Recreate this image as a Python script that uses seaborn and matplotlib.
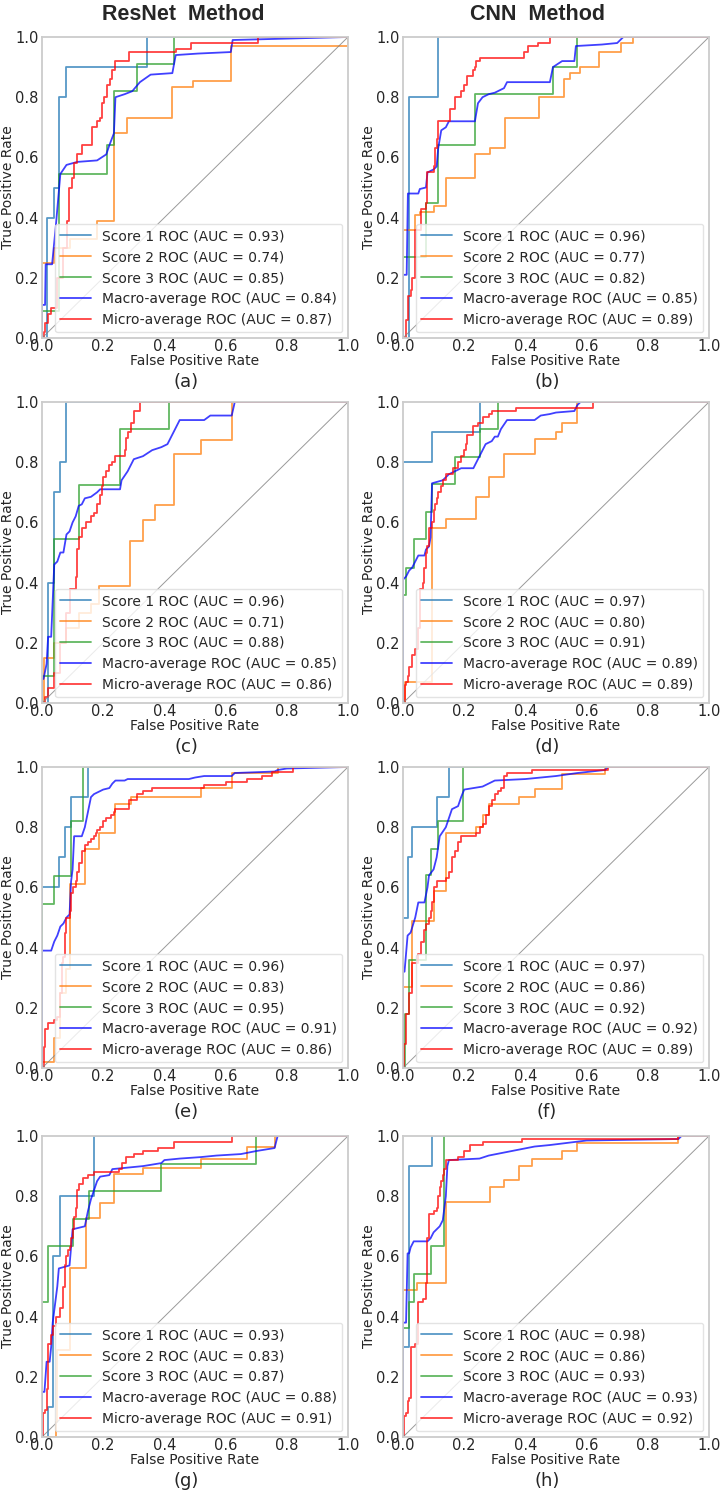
import matplotlib
matplotlib.use("Agg")
import matplotlib.pyplot as plt
import seaborn as sns

# ---------------- data ----------------
# each curve is a list of (fpr, tpr) points; scores / micro are step curves,
# macro is drawn as a plain polyline

# (a) ResNet, row 1
A_S1 = [(0, 0), (0.017, 0.4), (0.038, 0.5), (0.057, 0.8), (0.077, 0.9), (0.344, 1.0), (1, 1.0)]
A_S2 = [(0, 0), (0, 0.25), (0.04, 0.30), (0.09, 0.33), (0.18, 0.39), (0.235, 0.68), (0.279, 0.73),
        (0.426, 0.835), (0.492, 0.854), (0.617, 0.97), (1.0, 1.0), (1, 1.0)]
A_S3 = [(0, 0), (0, 0.09), (0.055, 0.545), (0.213, 0.64), (0.235, 0.82), (0.31, 0.91), (0.43, 1.0), (1, 1.0)]
A_MA = [(0, 0), (0, 0.11), (0.01, 0.11), (0.012, 0.245), (0.033, 0.245), (0.045, 0.37), (0.06, 0.545),
        (0.08, 0.575), (0.115, 0.585), (0.18, 0.59), (0.21, 0.61), (0.22, 0.64), (0.235, 0.68),
        (0.24, 0.80), (0.27, 0.81), (0.295, 0.82), (0.32, 0.85), (0.355, 0.875), (0.426, 0.88),
        (0.437, 0.94), (0.51, 0.945), (0.617, 0.95), (0.623, 0.99), (1, 1.0)]
A_MI = [(0, 0), (0.005, 0.02), (0.01, 0.05), (0.02, 0.08), (0.03, 0.10), (0.05, 0.2), (0.07, 0.3),
        (0.082, 0.39), (0.087, 0.5), (0.098, 0.53), (0.104, 0.58), (0.115, 0.61), (0.131, 0.64),
        (0.164, 0.70), (0.18, 0.72), (0.19, 0.73), (0.197, 0.78), (0.204, 0.80), (0.211, 0.84),
        (0.222, 0.86), (0.23, 0.89), (0.24, 0.92), (0.284, 0.95), (0.437, 0.96), (0.486, 0.98),
        (0.705, 1.0), (1, 1.0)]

# (b) CNN, row 1
B_S1 = [(0, 0), (0.02, 0.8), (0.115, 1.0), (1, 1.0)]
B_S2 = [(0, 0), (0, 0.36), (0.038, 0.41), (0.055, 0.42), (0.1, 0.44), (0.142, 0.53), (0.235, 0.61),
        (0.285, 0.63), (0.334, 0.73), (0.444, 0.80), (0.526, 0.86), (0.545, 0.88), (0.58, 0.90),
        (0.64, 0.95), (0.712, 0.98), (0.75, 1.0), (1, 1.0)]
B_S3 = [(0, 0), (0, 0.27), (0.075, 0.45), (0.115, 0.64), (0.235, 0.81), (0.49, 0.90), (0.57, 1.0), (1, 1.0)]
B_MA = [(0, 0), (0, 0.21), (0.012, 0.21), (0.016, 0.48), (0.05, 0.48), (0.055, 0.495), (0.075, 0.50),
        (0.08, 0.55), (0.1, 0.56), (0.11, 0.57), (0.115, 0.63), (0.125, 0.69), (0.14, 0.70),
        (0.15, 0.72), (0.235, 0.72), (0.245, 0.78), (0.26, 0.80), (0.28, 0.81), (0.3, 0.815),
        (0.33, 0.83), (0.34, 0.85), (0.48, 0.85), (0.49, 0.90), (0.52, 0.92), (0.56, 0.92),
        (0.565, 0.97), (0.65, 0.975), (0.7, 0.98), (0.72, 1.0), (1, 1.0)]
B_MI = [(0, 0), (0.01, 0.06), (0.015, 0.14), (0.025, 0.16), (0.03, 0.2), (0.04, 0.36), (0.06, 0.43),
        (0.075, 0.45), (0.08, 0.55), (0.1, 0.57), (0.105, 0.63), (0.11, 0.66), (0.115, 0.72),
        (0.155, 0.76), (0.17, 0.80), (0.19, 0.82), (0.2, 0.84), (0.21, 0.87), (0.23, 0.89),
        (0.235, 0.90), (0.24, 0.92), (0.25, 0.93), (0.395, 0.95), (0.41, 0.97), (0.44, 0.98),
        (0.48, 1.0), (1, 1.0)]

# (c) ResNet, row 2
C_S1 = [(0, 0), (0.02, 0.4), (0.04, 0.7), (0.06, 0.8), (0.08, 1.0), (1, 1.0)]
C_S2 = [(0, 0), (0.005, 0.15), (0.04, 0.2), (0.08, 0.25), (0.12, 0.3), (0.16, 0.33), (0.185, 0.39),
        (0.289, 0.537), (0.33, 0.609), (0.37, 0.659), (0.43, 0.828), (0.52, 0.875), (0.62, 1.0), (1, 1.0)]
C_S3 = [(0, 0), (0, 0.09), (0.04, 0.545), (0.12, 0.725), (0.255, 0.91), (0.415, 1.0), (1, 1.0)]
C_MA = [(0, 0), (0, 0.08), (0.005, 0.08), (0.015, 0.13), (0.02, 0.22), (0.03, 0.22), (0.04, 0.46),
        (0.05, 0.47), (0.06, 0.5), (0.07, 0.5), (0.08, 0.56), (0.09, 0.57), (0.1, 0.6), (0.11, 0.62),
        (0.12, 0.655), (0.13, 0.66), (0.14, 0.68), (0.16, 0.685), (0.18, 0.7), (0.19, 0.71),
        (0.255, 0.71), (0.26, 0.74), (0.28, 0.77), (0.3, 0.81), (0.33, 0.82), (0.36, 0.84),
        (0.39, 0.85), (0.41, 0.86), (0.43, 0.9), (0.45, 0.94), (0.53, 0.94), (0.55, 0.955),
        (0.62, 0.955), (0.63, 1.0), (1, 1.0)]
C_MI = [(0, 0), (0.01, 0.02), (0.02, 0.05), (0.04, 0.1), (0.06, 0.2), (0.08, 0.3), (0.09, 0.38),
        (0.11, 0.42), (0.115, 0.51), (0.12, 0.55), (0.13, 0.58), (0.145, 0.6), (0.16, 0.62),
        (0.17, 0.63), (0.18, 0.66), (0.19, 0.69), (0.195, 0.72), (0.2, 0.75), (0.21, 0.77),
        (0.22, 0.79), (0.23, 0.80), (0.24, 0.82), (0.27, 0.84), (0.275, 0.88), (0.28, 0.9),
        (0.29, 0.93), (0.3, 0.97), (0.32, 1.0), (1, 1.0)]

# (d) CNN, row 2
D_S1 = [(0, 0), (0, 0.8), (0.095, 0.9), (0.25, 1.0), (1, 1.0)]
D_S2 = [(0, 0), (0.005, 0.07), (0.095, 0.58), (0.14, 0.61), (0.24, 0.683), (0.28, 0.75), (0.33, 0.828),
        (0.43, 0.878), (0.5, 0.9), (0.52, 0.93), (0.57, 1.0), (1, 1.0)]
D_S3 = [(0, 0), (0, 0.36), (0.01, 0.45), (0.035, 0.544), (0.075, 0.636), (0.095, 0.728), (0.17, 0.817),
        (0.25, 0.91), (0.31, 1.0), (1, 1.0)]
D_MA = [(0, 0), (0, 0.41), (0.01, 0.42), (0.02, 0.44), (0.03, 0.45), (0.04, 0.47), (0.05, 0.49),
        (0.07, 0.49), (0.075, 0.51), (0.085, 0.52), (0.09, 0.55), (0.095, 0.73), (0.13, 0.74),
        (0.15, 0.76), (0.17, 0.77), (0.19, 0.78), (0.23, 0.78), (0.24, 0.8), (0.25, 0.82),
        (0.26, 0.84), (0.27, 0.86), (0.29, 0.87), (0.3, 0.885), (0.31, 0.885), (0.32, 0.91),
        (0.34, 0.94), (0.43, 0.94), (0.45, 0.955), (0.48, 0.96), (0.5, 0.965), (0.56, 0.97),
        (0.57, 0.99), (0.58, 1.0), (1, 1.0)]
D_MI = [(0, 0), (0.005, 0.06), (0.01, 0.07), (0.015, 0.09), (0.02, 0.12), (0.03, 0.16), (0.04, 0.18),
        (0.05, 0.25), (0.055, 0.38), (0.065, 0.4), (0.07, 0.45), (0.075, 0.5), (0.08, 0.52),
        (0.085, 0.58), (0.095, 0.6), (0.1, 0.64), (0.105, 0.66), (0.11, 0.68), (0.115, 0.7),
        (0.125, 0.72), (0.13, 0.74), (0.14, 0.76), (0.165, 0.78), (0.18, 0.8), (0.19, 0.82),
        (0.2, 0.84), (0.205, 0.86), (0.21, 0.89), (0.23, 0.92), (0.245, 0.93), (0.26, 0.95),
        (0.28, 0.96), (0.29, 0.97), (0.37, 0.98), (0.62, 1.0), (1, 1.0)]

# (e) ResNet, row 3
E_S1 = [(0, 0), (0, 0.6), (0.055, 0.7), (0.075, 0.8), (0.095, 0.9), (0.15, 1.0), (1, 1.0)]
E_S2 = [(0, 0), (0, 0.02), (0.04, 0.1), (0.06, 0.25), (0.08, 0.33), (0.093, 0.61), (0.14, 0.728),
        (0.186, 0.78), (0.24, 0.878), (0.29, 0.9), (0.52, 0.93), (0.62, 0.98), (0.77, 1.0), (1, 1.0)]
E_S3 = [(0, 0), (0, 0.544), (0.04, 0.639), (0.095, 0.82), (0.135, 1.0), (1, 1.0)]
E_MA = [(0, 0), (0, 0.39), (0.03, 0.39), (0.04, 0.42), (0.05, 0.44), (0.06, 0.47), (0.07, 0.48),
        (0.08, 0.5), (0.09, 0.51), (0.095, 0.62), (0.1, 0.66), (0.105, 0.77), (0.13, 0.77),
        (0.14, 0.8), (0.15, 0.85), (0.16, 0.9), (0.17, 0.91), (0.19, 0.92), (0.2, 0.925),
        (0.22, 0.93), (0.23, 0.945), (0.24, 0.955), (0.27, 0.955), (0.28, 0.96), (0.48, 0.96),
        (0.5, 0.965), (0.53, 0.97), (0.62, 0.97), (0.63, 0.98), (0.76, 0.985), (0.77, 0.99),
        (0.8, 0.995), (1, 1.0)]
E_MI = [(0, 0), (0.005, 0.07), (0.01, 0.13), (0.02, 0.15), (0.04, 0.16), (0.05, 0.17), (0.06, 0.25),
        (0.065, 0.35), (0.07, 0.37), (0.075, 0.45), (0.08, 0.5), (0.09, 0.52), (0.095, 0.58),
        (0.1, 0.6), (0.11, 0.62), (0.115, 0.65), (0.12, 0.68), (0.13, 0.72), (0.14, 0.74),
        (0.15, 0.75), (0.16, 0.76), (0.17, 0.77), (0.175, 0.78), (0.18, 0.79), (0.19, 0.8),
        (0.2, 0.82), (0.21, 0.83), (0.225, 0.84), (0.235, 0.85), (0.24, 0.86), (0.285, 0.89),
        (0.31, 0.91), (0.33, 0.92), (0.36, 0.93), (0.53, 0.94), (0.6, 0.95), (0.67, 0.96),
        (0.72, 0.97), (0.75, 0.985), (0.82, 1.0), (1, 1.0)]

# (f) CNN, row 3
F_S1 = [(0, 0), (0, 0.5), (0.015, 0.7), (0.03, 0.8), (0.11, 0.9), (0.15, 1.0), (1, 1.0)]
F_S2 = [(0, 0), (0, 0.27), (0.03, 0.49), (0.1, 0.587), (0.14, 0.78), (0.24, 0.8), (0.26, 0.84),
        (0.28, 0.878), (0.38, 0.9), (0.43, 0.928), (0.52, 0.976), (0.66, 1.0), (1, 1.0)]
F_S3 = [(0, 0), (0.005, 0.18), (0.02, 0.36), (0.075, 0.64), (0.09, 0.728), (0.115, 0.82),
        (0.195, 1.0), (1, 1.0)]
F_MA = [(0, 0), (0, 0.32), (0.005, 0.32), (0.015, 0.44), (0.025, 0.45), (0.04, 0.5), (0.05, 0.55),
        (0.07, 0.55), (0.08, 0.6), (0.085, 0.64), (0.1, 0.66), (0.11, 0.7), (0.12, 0.77),
        (0.14, 0.8), (0.16, 0.86), (0.18, 0.87), (0.19, 0.9), (0.2, 0.925), (0.23, 0.93),
        (0.26, 0.935), (0.28, 0.945), (0.3, 0.955), (0.4, 0.96), (0.5, 0.97), (0.57, 0.98),
        (0.66, 0.99), (0.67, 1.0), (1, 1.0)]
F_MI = [(0, 0), (0.002, 0.08), (0.01, 0.18), (0.02, 0.25), (0.03, 0.35), (0.05, 0.38), (0.06, 0.42),
        (0.07, 0.46), (0.075, 0.48), (0.085, 0.5), (0.09, 0.52), (0.095, 0.55), (0.1, 0.6),
        (0.11, 0.62), (0.14, 0.63), (0.15, 0.65), (0.16, 0.7), (0.17, 0.72), (0.18, 0.75),
        (0.19, 0.77), (0.24, 0.78), (0.25, 0.8), (0.26, 0.81), (0.27, 0.84), (0.28, 0.87),
        (0.29, 0.89), (0.3, 0.91), (0.31, 0.92), (0.32, 0.93), (0.33, 0.97), (0.34, 0.98),
        (0.42, 0.99), (0.67, 1.0), (1, 1.0)]

# (g) ResNet, row 4
G_S1 = [(0, 0), (0.02, 0.1), (0.035, 0.6), (0.058, 0.8), (0.17, 1.0), (1, 1.0)]
G_S2 = [(0, 0), (0.045, 0.05), (0.05, 0.29), (0.093, 0.56), (0.143, 0.729), (0.19, 0.776),
        (0.235, 0.875), (0.33, 0.895), (0.52, 0.922), (0.67, 0.965), (0.76, 1.0), (1, 1.0)]
G_S3 = [(0, 0), (0, 0.45), (0.02, 0.635), (0.1, 0.724), (0.155, 0.818), (0.39, 0.906), (0.7, 1.0), (1, 1.0)]
G_MA = [(0, 0), (0, 0.15), (0.008, 0.15), (0.015, 0.25), (0.025, 0.25), (0.03, 0.3), (0.035, 0.38),
        (0.04, 0.42), (0.05, 0.5), (0.055, 0.56), (0.09, 0.57), (0.1, 0.69), (0.14, 0.7),
        (0.15, 0.75), (0.16, 0.79), (0.17, 0.82), (0.18, 0.85), (0.19, 0.865), (0.22, 0.87),
        (0.23, 0.89), (0.33, 0.9), (0.39, 0.91), (0.4, 0.92), (0.45, 0.925), (0.52, 0.93),
        (0.57, 0.935), (0.65, 0.94), (0.7, 0.95), (0.76, 0.96), (0.77, 1.0), (1, 1.0)]
G_MI = [(0, 0), (0.002, 0.08), (0.01, 0.09), (0.015, 0.16), (0.02, 0.31), (0.03, 0.34), (0.035, 0.37),
        (0.045, 0.4), (0.06, 0.43), (0.07, 0.5), (0.075, 0.57), (0.08, 0.6), (0.085, 0.62),
        (0.09, 0.63), (0.095, 0.66), (0.1, 0.69), (0.105, 0.73), (0.11, 0.76), (0.115, 0.82),
        (0.12, 0.84), (0.135, 0.86), (0.15, 0.87), (0.17, 0.88), (0.25, 0.89), (0.26, 0.91),
        (0.275, 0.93), (0.3, 0.94), (0.33, 0.95), (0.38, 0.96), (0.43, 0.98), (0.62, 1.0), (1, 1.0)]

# (h) CNN, row 4
H_S1 = [(0, 0), (0, 0.3), (0.018, 0.9), (0.095, 1.0), (1, 1.0)]
H_S2 = [(0, 0), (0, 0.487), (0.045, 0.51), (0.14, 0.78), (0.285, 0.83), (0.33, 0.855), (0.38, 0.9),
        (0.42, 0.922), (0.52, 0.95), (0.57, 0.978), (0.9, 1.0), (1, 1.0)]
H_S3 = [(0, 0), (0, 0.361), (0.02, 0.45), (0.035, 0.542), (0.09, 0.633), (0.135, 1.0), (1, 1.0)]
H_MA = [(0, 0), (0, 0.38), (0.01, 0.38), (0.015, 0.61), (0.02, 0.61), (0.025, 0.63), (0.035, 0.65),
        (0.08, 0.65), (0.09, 0.66), (0.1, 0.68), (0.11, 0.69), (0.12, 0.7), (0.13, 0.72),
        (0.14, 0.8), (0.145, 0.9), (0.15, 0.92), (0.25, 0.925), (0.28, 0.935), (0.33, 0.945),
        (0.38, 0.955), (0.43, 0.965), (0.48, 0.97), (0.56, 0.98), (0.6, 0.985), (0.9, 0.99),
        (0.91, 1.0), (1, 1.0)]
H_MI = [(0, 0), (0.002, 0.07), (0.01, 0.08), (0.015, 0.12), (0.02, 0.13), (0.025, 0.3), (0.04, 0.31),
        (0.05, 0.45), (0.065, 0.46), (0.075, 0.51), (0.08, 0.66), (0.085, 0.74), (0.1, 0.75),
        (0.11, 0.76), (0.115, 0.8), (0.12, 0.83), (0.125, 0.85), (0.13, 0.87), (0.135, 0.89),
        (0.14, 0.92), (0.18, 0.93), (0.2, 0.95), (0.22, 0.97), (0.26, 0.98), (0.39, 0.99),
        (0.9, 1.0), (1, 1.0)]

# AUC values in legend order: score1, score2, score3, macro, micro
AUC_A = [0.93, 0.74, 0.85, 0.84, 0.87]
AUC_B = [0.96, 0.77, 0.82, 0.85, 0.89]
AUC_C = [0.96, 0.71, 0.88, 0.85, 0.86]
AUC_D = [0.97, 0.80, 0.91, 0.89, 0.89]
AUC_E = [0.96, 0.83, 0.95, 0.91, 0.86]
AUC_F = [0.97, 0.86, 0.92, 0.92, 0.89]
AUC_G = [0.93, 0.83, 0.87, 0.88, 0.91]
AUC_H = [0.98, 0.86, 0.93, 0.93, 0.92]

PANEL_LETTERS = ["(a)", "(b)", "(c)", "(d)", "(e)", "(f)", "(g)", "(h)"]
COLUMN_TITLES = ["ResNet  Method", "CNN  Method"]
CURVE_NAMES = ["Score 1 ROC", "Score 2 ROC", "Score 3 ROC", "Macro-average ROC", "Micro-average ROC"]

panels = [
    (A_S1, A_S2, A_S3, A_MA, A_MI, AUC_A),
    (B_S1, B_S2, B_S3, B_MA, B_MI, AUC_B),
    (C_S1, C_S2, C_S3, C_MA, C_MI, AUC_C),
    (D_S1, D_S2, D_S3, D_MA, D_MI, AUC_D),
    (E_S1, E_S2, E_S3, E_MA, E_MI, AUC_E),
    (F_S1, F_S2, F_S3, F_MA, F_MI, AUC_F),
    (G_S1, G_S2, G_S3, G_MA, G_MI, AUC_G),
    (H_S1, H_S2, H_S3, H_MA, H_MI, AUC_H),
]

colors = ["#1f77b4", "#ff7f0e", "#2ca02c", "blue", "red"]

# ---------------- style ----------------
sns.set_style("white")
plt.rcParams["font.family"] = ["DejaVu Sans"]
plt.rcParams["axes.edgecolor"] = "#cccccc"

W, H = 721, 1500
fig = plt.figure(figsize=(W / 100, H / 100), dpi=100)

col_left = [42, 403]
row_top = [37, 402, 767, 1136]
ax_w, ax_h = 306, 301
title_x = [183, 538]

for i, (s1, s2, s3, ma, mi, auc) in enumerate(panels):
    r, c = divmod(i, 2)
    left = col_left[c] / W
    bottom = 1 - (row_top[r] + ax_h) / H
    ax = fig.add_axes([left, bottom, ax_w / W, ax_h / H])

    curves = [s1, s2, s3, ma, mi]
    for k, pts in enumerate(curves):
        xs = [p[0] for p in pts]
        ys = [p[1] for p in pts]
        lab = f"{CURVE_NAMES[k]} (AUC = {auc[k]:.2f})"
        style = "default" if k == 3 else "steps-post"
        sns.lineplot(x=xs, y=ys, ax=ax, sort=False, estimator=None,
                     drawstyle=style, color=colors[k], lw=1.3, alpha=0.75, label=lab)

    ax.axline((0, 0), slope=1, color="gray", lw=0.7, alpha=0.8)

    ax.set_xlim(0, 1)
    ax.set_ylim(0, 1)
    ax.set_xticks([0, 0.2, 0.4, 0.6, 0.8, 1.0])
    ax.set_yticks([0, 0.2, 0.4, 0.6, 0.8, 1.0])
    ax.tick_params(axis="both", length=0, labelsize=10.5)
    ax.tick_params(axis="x", pad=1)
    ax.tick_params(axis="y", pad=2.5)
    for sp in ax.spines.values():
        sp.set_color("#cccccc")
        sp.set_linewidth(1.3)
    ax.set_xlabel("False Positive Rate", fontsize=10, labelpad=0)
    ax.set_ylabel("True Positive Rate", fontsize=10, labelpad=0)
    ax.legend(loc="lower right", fontsize=10, frameon=True, framealpha=0.8,
              edgecolor="#dddddd", borderaxespad=0.4, handlelength=2.2)

    # panel letter under the axes
    cx = (col_left[c] + ax_w / 2 - 9) / W
    fig.text(cx, 1 - (row_top[r] + ax_h + 44) / H, PANEL_LETTERS[i],
             ha="center", va="center", fontsize=13)

# column titles
for c in range(2):
    fig.text(title_x[c] / W, 1 - 14 / H, COLUMN_TITLES[c], ha="center", va="center",
             fontsize=15.5, fontweight="bold", family=["Liberation Sans", "DejaVu Sans"])

fig.savefig("out.png", dpi=100, facecolor="white")
